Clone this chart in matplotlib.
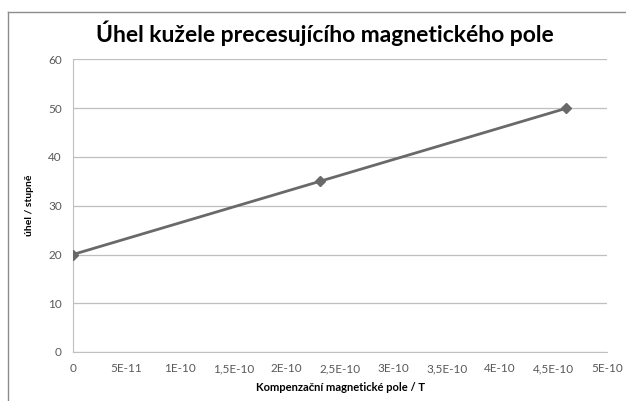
import matplotlib
matplotlib.use("Agg")
from matplotlib import pyplot as plt
from matplotlib.lines import Line2D

# data
fieldValues = [0.0, 2.31e-10, 4.62e-10]
angleValues = [20, 35, 50]
xTicks = [0, 5e-11, 1e-10, 1.5e-10, 2e-10, 2.5e-10, 3e-10, 3.5e-10, 4e-10, 4.5e-10, 5e-10]
xTickLabels = ["0", "5E-11", "1E-10", "1,5E-10", "2E-10", "2,5E-10", "3E-10",
               "3,5E-10", "4E-10", "4,5E-10", "5E-10"]
yTicks = [0, 10, 20, 30, 40, 50, 60]

plt.rcParams["font.family"] = ["Lato", "DejaVu Sans"]
fig = plt.figure(figsize=(6.26, 4.01), dpi=100)
fig.set_facecolor("white")
W, H = 626, 401
ax = fig.add_axes([73/W, 1-352/H, (607-73)/W, (352-59.5)/H])

ax.plot(fieldValues, angleValues, color="#696969", linewidth=2,
        marker="D", markersize=5.5, markerfacecolor="#696969", markeredgecolor="#696969", zorder=3)

ax.set_xlim(0, 5e-10)
ax.set_ylim(0, 60)
ax.set_xticks(xTicks)
ax.set_xticklabels(xTickLabels)
ax.set_yticks(yTicks)
ax.grid(axis="y", color="#bfbfbf", linewidth=0.9)
ax.set_axisbelow(True)
for s in ["top", "right"]:
    ax.spines[s].set_visible(False)
ax.spines["left"].set_color("#bfbfbf")
ax.spines["bottom"].set_color("#bfbfbf")
ax.tick_params(length=0, labelsize=8.5, colors="#595959", pad=8)

ax.set_xlabel("Kompenzační magnetické pole / T", fontsize=8, fontweight="bold", labelpad=6)
ax.set_ylabel("úhel / stupně", fontsize=7.5, fontweight="bold", labelpad=10)
fig.text(325/W, 1-33/H, "Úhel kužele precesujícího magnetického pole",
         ha="center", va="center", fontsize=16.5, fontweight="bold")

# chart frame (left and top edges visible in the reference crop)
fig.add_artist(Line2D([8/W, 8/W], [0, 1-12/H], transform=fig.transFigure, color="#8c8c8c", linewidth=1))
fig.add_artist(Line2D([8/W, 1], [1-12/H, 1-12/H], transform=fig.transFigure, color="#8c8c8c", linewidth=1))

fig.savefig("out.png", dpi=100)
